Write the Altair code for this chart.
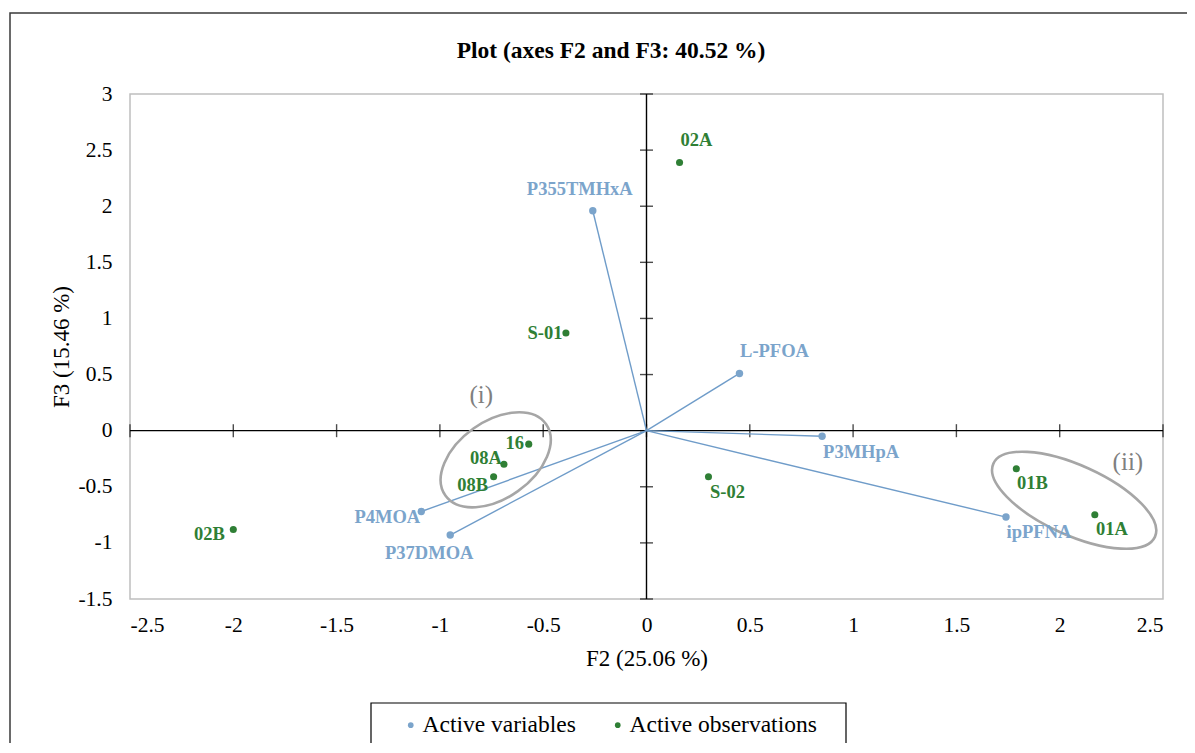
import altair as alt
import pandas as pd

# ---------------- data ----------------
var_names = ["P355TMHxA", "L-PFOA", "P3MHpA", "ipPFNA", "P4MOA", "P37DMOA"]
var_f2 = [-0.26, 0.45, 0.85, 1.74, -1.09, -0.95]
var_f3 = [1.96, 0.51, -0.05, -0.77, -0.72, -0.93]

obs_names = ["02A", "S-01", "16", "08A", "08B", "02B", "S-02", "01B", "01A"]
obs_f2 = [0.16, -0.39, -0.57, -0.69, -0.74, -2.00, 0.30, 1.79, 2.17]
obs_f3 = [2.39, 0.87, -0.12, -0.30, -0.41, -0.88, -0.41, -0.34, -0.75]

group_names = ["(i)", "(ii)"]
group_f2 = [-0.73, 2.07]
group_f3 = [-0.26, -0.62]
group_label_f2 = [-0.80, 2.33]
group_label_f3 = [0.32, -0.28]

x_ticks = [-2.5, -2, -1.5, -1, -0.5, 0, 0.5, 1, 1.5, 2, 2.5]
y_ticks = [-1.5, -1, -0.5, 0, 0.5, 1, 1.5, 2, 2.5, 3]

legend_labels = ["Active variables", "Active observations"]
chart_title = "Plot (axes F2 and F3: 40.52 %)"

# ---------------- styles ----------------
FONT = "Liberation Serif"
BLUE = "#7ba4cb"
LINE_BLUE = "#6f9cc9"
GREEN = "#2f7f35"
GRAY = "#a6a6a6"

var_offsets = {"P355TMHxA": (-13, -22), "L-PFOA": (35, -22), "P3MHpA": (39, 16),
               "ipPFNA": (33, 15), "P4MOA": (-34, 6), "P37DMOA": (-21, 18)}
obs_offsets = {"02A": (17, -22), "S-01": (-21, 0), "16": (-14, -1), "08A": (-18, -6),
               "08B": (-21, 8), "02B": (-24, 5), "S-02": (19, 15), "01B": (16, 14),
               "01A": (17, 14)}

# ellipse (semi-major px, semi-minor px, angle deg)
ellipse_style = {"(i)": (61.7, 38.4, 324.6), "(ii)": (88.7, 34.9, 24.4)}


def ellipse_path(r):
    k = 0.5523
    return (f"M -1 0 C -1 {-k*r:.4f} {-k} {-r:.4f} 0 {-r:.4f} "
            f"C {k} {-r:.4f} 1 {-k*r:.4f} 1 0 "
            f"C 1 {k*r:.4f} {k} {r:.4f} 0 {r:.4f} "
            f"C {-k} {r:.4f} -1 {k*r:.4f} -1 0 Z")


var_df = pd.DataFrame({"name": var_names, "f2": var_f2, "f3": var_f3,
                       "group": legend_labels[0]})
var_df["o2"] = 0.0
var_df["o3"] = 0.0
obs_df = pd.DataFrame({"name": obs_names, "f2": obs_f2, "f3": obs_f3,
                       "group": legend_labels[1]})
grp_df = pd.DataFrame({"name": group_names, "f2": group_f2, "f3": group_f3})
grp_lab_df = pd.DataFrame({"name": group_names, "f2": group_label_f2, "f3": group_label_f3})
xt_df = pd.DataFrame({"f2": x_ticks, "f3": [0.0] * len(x_ticks)})
yt_df = pd.DataFrame({"f2": [0.0] * len(y_ticks), "f3": y_ticks})
zero_v = pd.DataFrame({"f2": [0.0]})
zero_h = pd.DataFrame({"f3": [0.0]})
title_df = pd.DataFrame({"t": [chart_title]})

xscale = alt.Scale(domain=[-2.5, 2.5], nice=False, zero=False)
yscale = alt.Scale(domain=[-1.5, 3], nice=False, zero=False)

xaxis = alt.Axis(title="F2 (25.06 %)", values=x_ticks, labelExpr="toString(datum.value)",
                 domain=False, ticks=False, tickSize=0, grid=False,
                 labelFont=FONT, labelFontSize=21.5, labelColor="#000000", labelPadding=15,
                 titleFont=FONT, titleFontSize=23, titleFontWeight="normal", titleColor="#000000",
                 titleBaseline="alphabetic", titleY=66)
yaxis = alt.Axis(title="F3 (15.46 %)", values=y_ticks, labelExpr="toString(datum.value)",
                 domain=False, ticks=False, tickSize=0, grid=False,
                 labelFont=FONT, labelFontSize=21.5, labelColor="#000000", labelPadding=18,
                 titleFont=FONT, titleFontSize=23, titleFontWeight="normal", titleColor="#000000",
                 titleBaseline="alphabetic", titleX=-62)

X = alt.X("f2:Q", scale=xscale, axis=xaxis)
Y = alt.Y("f3:Q", scale=yscale, axis=yaxis)

color = alt.Color("group:N",
                  scale=alt.Scale(domain=legend_labels, range=[BLUE, GREEN]),
                  legend=alt.Legend(title=None, orient="none", direction="horizontal",
                                    legendX=269, legendY=619, padding=0,
                                    symbolType="circle", symbolSize=32, symbolStrokeWidth=0,
                                    labelFont=FONT, labelFontSize=23.5, labelColor="#000000",
                                    labelOffset=0, columnPadding=30, labelLimit=400))

layers = []

# outer chart border and legend box (decoration)
deco = pd.DataFrame({"d": [0]})
layers.append(alt.Chart(deco).mark_rect(fill=None, stroke="#3a3a3a", strokeWidth=1.5).encode(
    x=alt.value(-120), x2=alt.value(1200), y=alt.value(-81), y2=alt.value(800)))
layers.append(alt.Chart(deco).mark_rect(fill=None, stroke="#000000", strokeWidth=1.2).encode(
    x=alt.value(241), x2=alt.value(716), y=alt.value(609), y2=alt.value(652)))
# chart title
layers.append(alt.Chart(title_df).mark_text(font=FONT, fontSize=23.5, fontWeight="bold",
                                            color="#000000", align="center",
                                            baseline="alphabetic").encode(
    x=alt.value(481), y=alt.value(-36), text="t:N"))

# zero lines
layers.append(alt.Chart(zero_v).mark_rule(color="#000000", strokeWidth=1.4).encode(x=X))
layers.append(alt.Chart(zero_h).mark_rule(color="#000000", strokeWidth=1.4).encode(y=Y))
# crossing ticks
layers.append(alt.Chart(xt_df).mark_tick(orient="vertical", size=13, thickness=1.4,
                                         color="#000000").encode(x=X, y=Y))
layers.append(alt.Chart(yt_df).mark_tick(orient="horizontal", size=13, thickness=1.4,
                                         color="#000000").encode(x=X, y=Y))

# vectors from origin
layers.append(alt.Chart(var_df).mark_rule(color=LINE_BLUE, strokeWidth=1.4).encode(
    x=X, y=Y, x2="o2:Q", y2="o3:Q"))

# ellipses
for g in group_names:
    a, b, ang = ellipse_style[g]
    layers.append(alt.Chart(grp_df[grp_df["name"] == g]).mark_point(
        shape=ellipse_path(b / a), size=(2 * a) ** 2, angle=ang, filled=False,
        stroke=GRAY, strokeWidth=2.6, opacity=1).encode(x=X, y=Y))

# group labels
layers.append(alt.Chart(grp_lab_df).mark_text(font=FONT, fontSize=25, color="#808080",
                                              align="center", baseline="middle").encode(
    x=X, y=Y, text="name:N"))

# points
layers.append(alt.Chart(var_df).mark_circle(size=55, opacity=1).encode(x=X, y=Y, color=color))
layers.append(alt.Chart(obs_df).mark_circle(size=50, opacity=1).encode(x=X, y=Y, color=color))

# point labels
for n in var_names:
    dx, dy = var_offsets[n]
    layers.append(alt.Chart(var_df[var_df["name"] == n]).mark_text(
        font=FONT, fontSize=18.5, fontWeight="bold", color=BLUE, align="center",
        baseline="middle", dx=dx, dy=dy).encode(x=X, y=Y, text="name:N"))
for n in obs_names:
    dx, dy = obs_offsets[n]
    layers.append(alt.Chart(obs_df[obs_df["name"] == n]).mark_text(
        font=FONT, fontSize=18.5, fontWeight="bold", color=GREEN, align="center",
        baseline="middle", dx=dx, dy=dy).encode(x=X, y=Y, text="name:N"))

chart = alt.layer(*layers).properties(
    width=1033, height=505,
    autosize=alt.AutoSizeParams(type="none"),
    padding={"left": 122, "top": 86, "right": 24, "bottom": 144},
    background="white",
).configure_view(stroke="#bfbfbf", strokeWidth=1.5)

chart.save("out.html", embed_options={"renderer": "svg", "actions": False})
